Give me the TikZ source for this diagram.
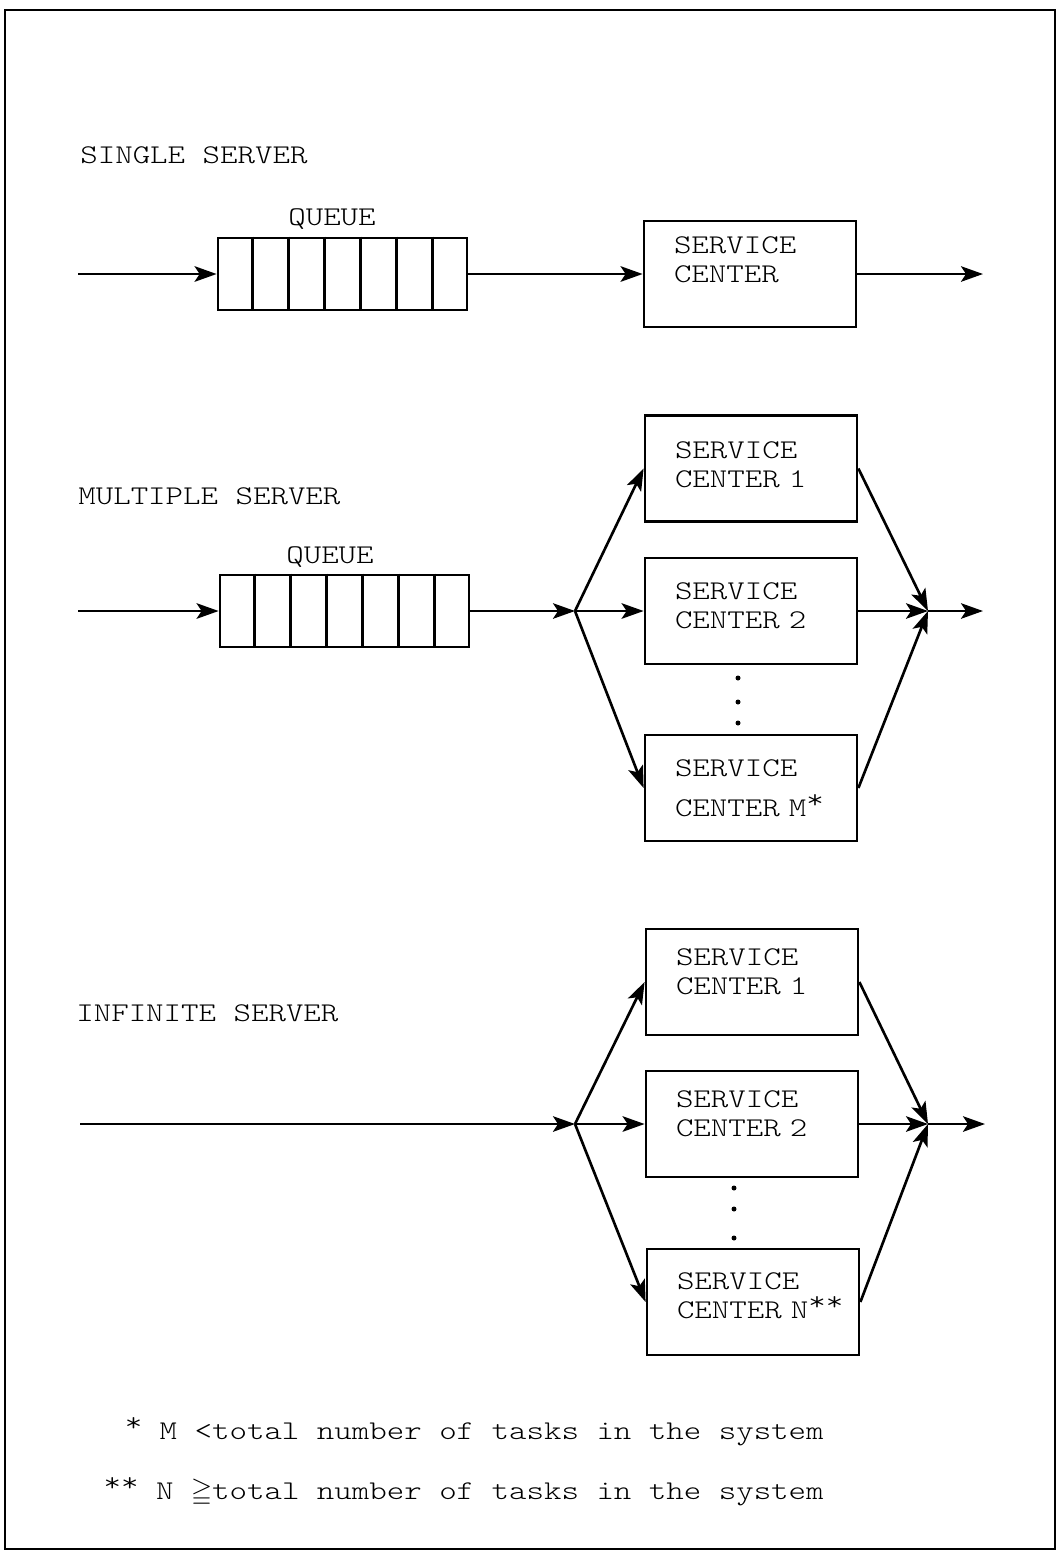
\documentclass[tikz,border=0pt]{standalone}
\usepackage{fontspec}
\newfontfamily\typer[FakeStretch=1.23]{lmmonolt10-regular.otf}
\usepackage{amssymb}
\usetikzlibrary{calc, positioning, arrows.meta}

\tikzset{
  flow/.style={line width=1.5pt, -{Stealth[length=4.4mm, width=3.1mm, inset=1mm]}},
  srvbox/.style={draw, line width=1.6pt, minimum width=4.24cm, minimum height=2.12cm,
    text width=3.04cm, inner xsep=0.6cm, align=left},
  lift/.style={text depth=#1},
  queuebox/.style={draw, line width=1.6pt, minimum width=4.98cm, minimum height=1.44cm, inner sep=0pt},
  caption/.style={inner sep=0pt, anchor=base west},
  qtag/.style={inner sep=0pt, anchor=base}
}
\newcommand{\queuecells}[1]{%
  \foreach \k in {1,...,6}
    \draw[line width=1.6pt] ($(#1.north west)!\k/7!(#1.north east)$) -- ($(#1.south west)!\k/7!(#1.south east)$);}
\newcommand{\upstar}{\raisebox{0.3em}{*}}

\begin{document}
\begin{tikzpicture}[x=0.02cm, y=-0.02cm, font=\typer\fontsize{15.4}{16.5}\selectfont]
  \useasboundingbox (0,0) rectangle (1061,1553);
  \draw[line width=1.6pt] (5,10) rectangle (1055,1549);

  % Single server
  \node[caption] (single) at (80,163) {SINGLE SERVER};
  \node[queuebox] (q1) at (342.5,274) {};
  \queuecells{q1}
  \node[qtag] (q1lbl) at (332,225) {QUEUE};
  \node[srvbox, lift=1.14cm] (s1) at (750,274) {SERVICE\\CENTER};
  \coordinate (in1) at (78,274);
  \coordinate (out1) at (983,274);
  \draw[flow] (in1) -- (q1);
  \draw[flow] (q1) -- (s1);
  \draw[flow] (s1) -- (out1);

  % Multiple server
  \node[caption] (multiple) at (78,504) {MULTIPLE SERVER};
  \node[queuebox] (q2) at (344.5,611) {};
  \queuecells{q2}
  \node[qtag] (q2lbl) at (330,563) {QUEUE};
  \node[srvbox, lift=0.74cm] (m1) at (751,468.5) {SERVICE\\\mbox{CENTER 1}};
  \node[srvbox, lift=0.78cm] (m2) at (751,611) {SERVICE\\\mbox{CENTER 2}};
  \node[srvbox] (mm) at (751,788) {SERVICE\\[0.22cm]\mbox{CENTER M\upstar}};
  \coordinate (in2) at (78,611);
  \coordinate (split2) at (575,611);
  \coordinate (merge2) at (928,611);
  \coordinate (out2) at (983,611);
  \draw[flow] (in2) -- (q2);
  \draw[flow] (q2) -- (split2);
  \foreach \b in {m1,m2,mm} {
    \draw[flow] (split2) -- (\b.west);
    \draw[flow] (\b.east) -- (merge2);
  }
  \draw[flow] (merge2) -- (out2);
  \foreach \y in {678,702,723} \fill (738,\y) circle (0.05cm);

  % Infinite server
  \node[caption] (infinite) at (76,1021) {INFINITE SERVER};
  \node[srvbox, lift=0.98cm] (i1) at (752,982) {SERVICE\\\mbox{CENTER 1}};
  \node[srvbox, lift=0.98cm] (i2) at (752,1124) {SERVICE\\\mbox{CENTER 2}};
  \node[srvbox, lift=0.82cm] (in) at (753,1302) {SERVICE\\\mbox{CENTER N\upstar\upstar}};
  \coordinate (in3) at (80,1124);
  \coordinate (split3) at (575,1124);
  \coordinate (merge3) at (928,1124);
  \coordinate (out3) at (985,1124);
  \draw[flow] (in3) -- (split3);
  \foreach \b in {i1,i2,in} {
    \draw[flow] (split3) -- (\b.west);
    \draw[flow] (\b.east) -- (merge3);
  }
  \draw[flow] (merge3) -- (out3);
  \foreach \y in {1188,1209,1238} \fill (734,\y) circle (0.05cm);

  % Notes
  \node[inner sep=0pt, anchor=east] (note1) at (824,1432) {\upstar{} M <total number of tasks in the system};
  \node[inner sep=0pt, anchor=east] (note2) at (824,1492) {\upstar\upstar{} N $\geqq$total number of tasks in the system};
\end{tikzpicture}
\end{document}
